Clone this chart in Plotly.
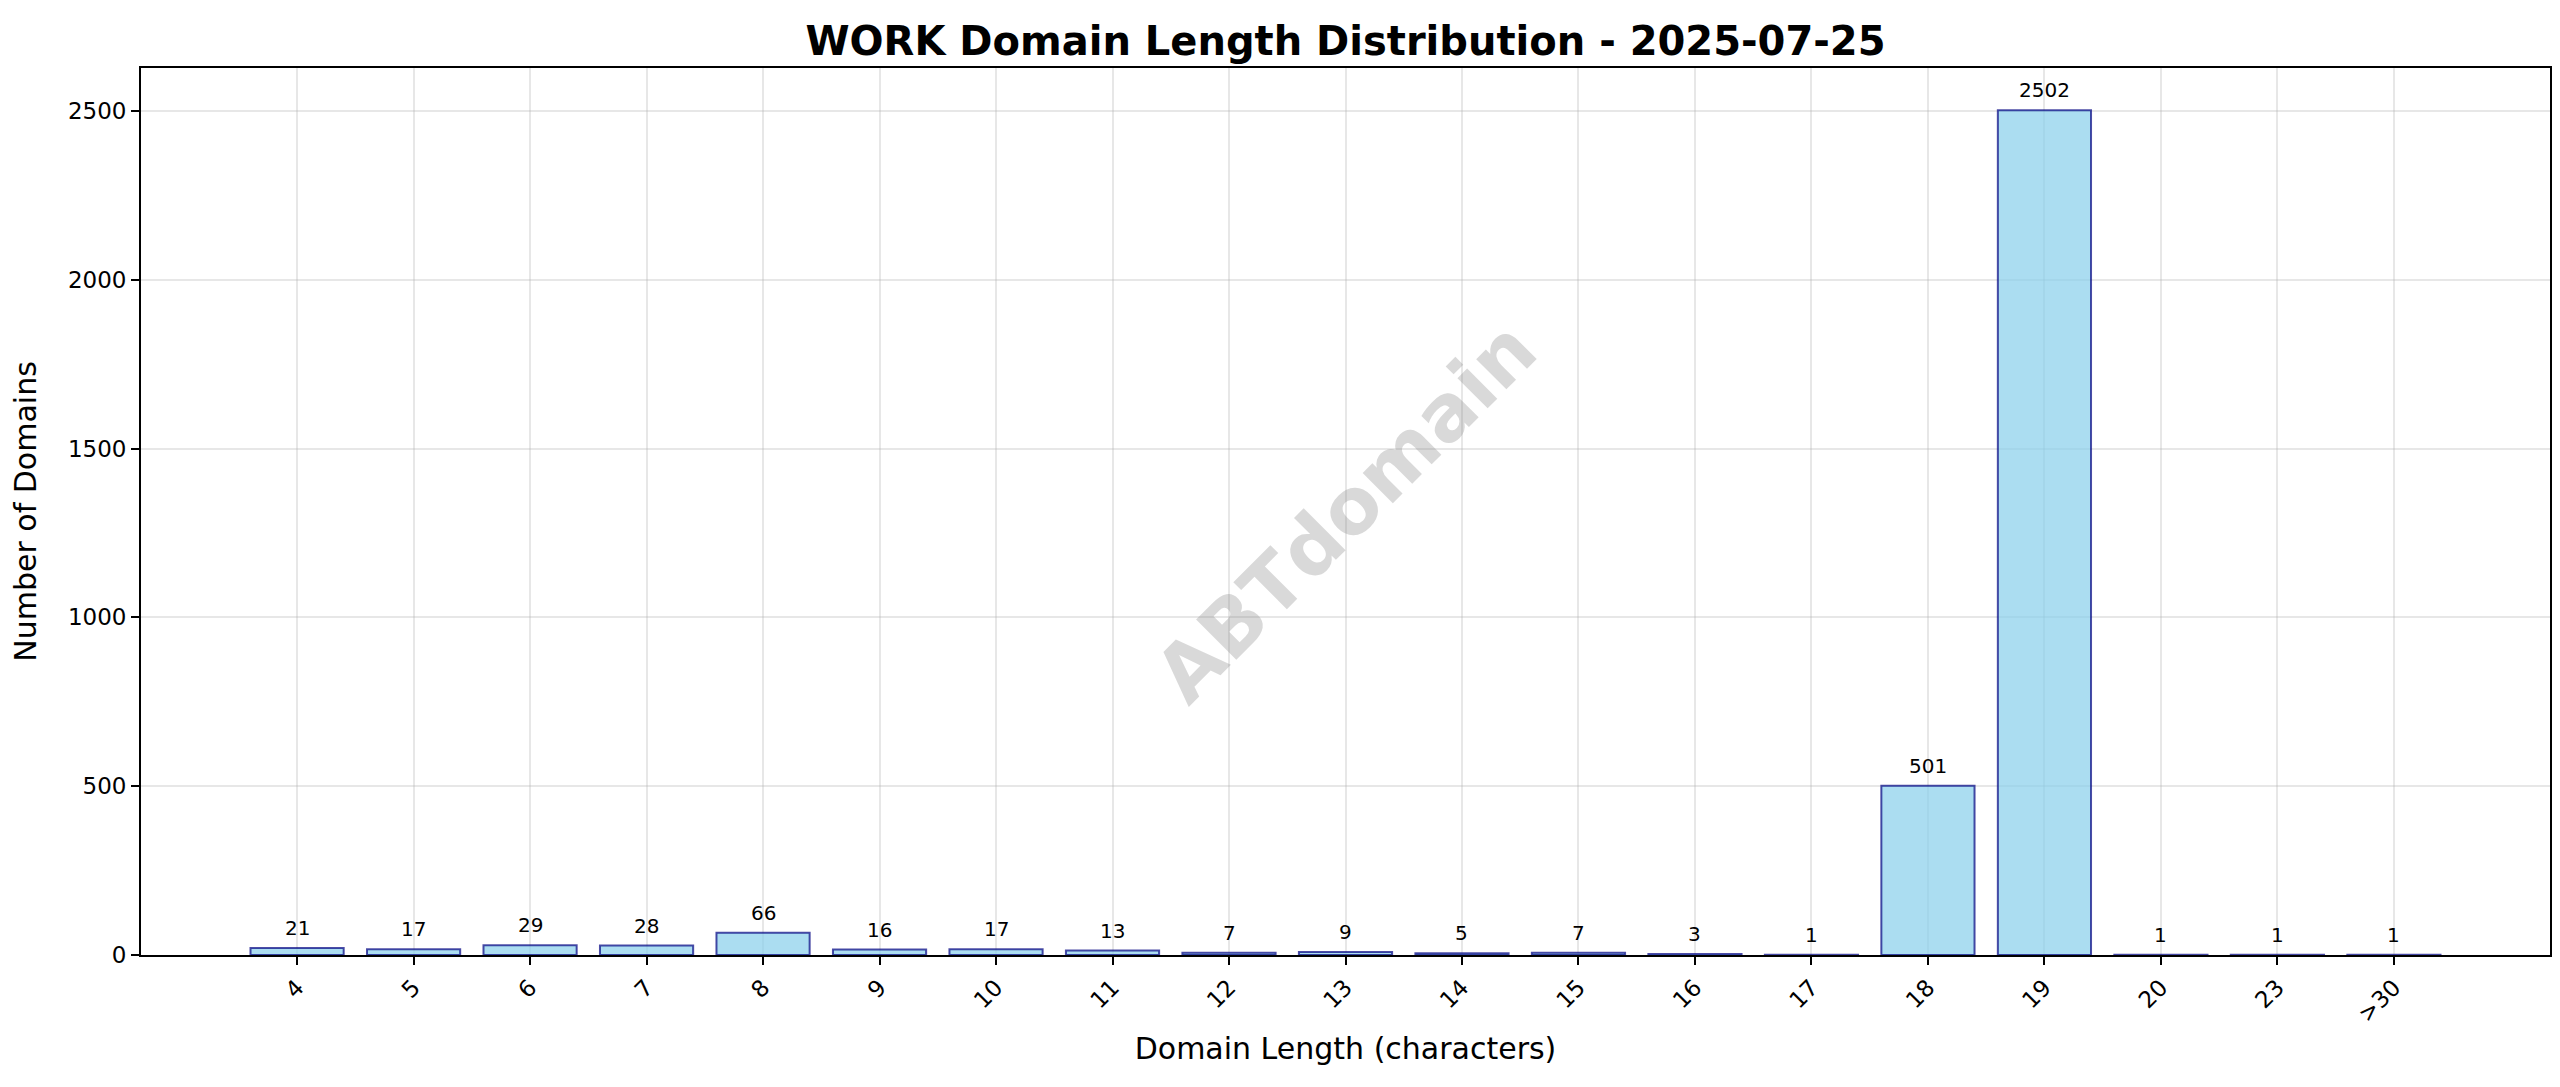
import plotly.graph_objects as go

# domain length buckets and counts
lengths = ['4', '5', '6', '7', '8', '9', '10', '11', '12', '13', '14', '15', '16', '17', '18', '19', '20', '23', '>30']
counts = [21, 17, 29, 28, 66, 16, 17, 13, 7, 9, 5, 7, 3, 1, 501, 2502, 1, 1, 1]
yticks = [0, 500, 1000, 1500, 2000, 2500]

title_text = 'WORK Domain Length Distribution - 2025-07-25'
watermark = 'ABTdomain'

fig = go.Figure()

fig.add_trace(go.Bar(x=lengths, y=counts, width=0.8,
                     marker=dict(color='rgba(135,206,235,0.7)',
                                 line=dict(color='rgba(0,0,128,0.7)', width=2)),
                     showlegend=False))

# value labels above each bar (category index, since names look numeric)
for i, val in enumerate(counts):
    fig.add_annotation(x=i, y=val, text=str(val), showarrow=False,
                       yanchor='bottom', yshift=6,
                       font=dict(size=20, color='black', family='DejaVu Sans'))

# watermark
fig.add_annotation(x=0.5, y=0.5, xref='paper', yref='paper', text='<b>' + watermark + '</b>',
                   showarrow=False, textangle=-45,
                   font=dict(size=78, color='rgba(128,128,128,0.3)', family='DejaVu Sans'))

fig.update_layout(
    width=2560, height=1087,
    template='none',
    paper_bgcolor='white', plot_bgcolor='white',
    margin=dict(l=133, r=18, t=60, b=140),
    font=dict(family='DejaVu Sans', color='black', size=22),
    title=dict(text='<b>' + title_text + '</b>', x=0.5, xref='paper', xanchor='center',
               y=1 - 33 / 1087, yanchor='middle',
               font=dict(size=40, family='DejaVu Sans', color='black')),
    xaxis=dict(
        title=dict(text='Domain Length (characters)', font=dict(size=30), standoff=12),
        type='category',
        range=[-1.34, 19.34],
        tickangle=-45,
        tickfont=dict(size=23),
        ticks='outside', ticklen=8, tickwidth=1.8, tickcolor='black',
        showline=True, linecolor='black', linewidth=1.8, mirror=True,
        showgrid=True, gridcolor='rgba(176,176,176,0.3)', gridwidth=1.8,
        zeroline=False,
    ),
    yaxis=dict(
        title=dict(text='Number of Domains', font=dict(size=30), standoff=24),
        range=[0, 2627],
        tickvals=yticks,
        tickfont=dict(size=23),
        ticks='outside', ticklen=8, tickwidth=1.8, tickcolor='black',
        showline=True, linecolor='black', linewidth=1.8, mirror=True,
        showgrid=True, gridcolor='rgba(176,176,176,0.3)', gridwidth=1.8,
        zeroline=False,
    ),
)

fig.write_html("out.html")
